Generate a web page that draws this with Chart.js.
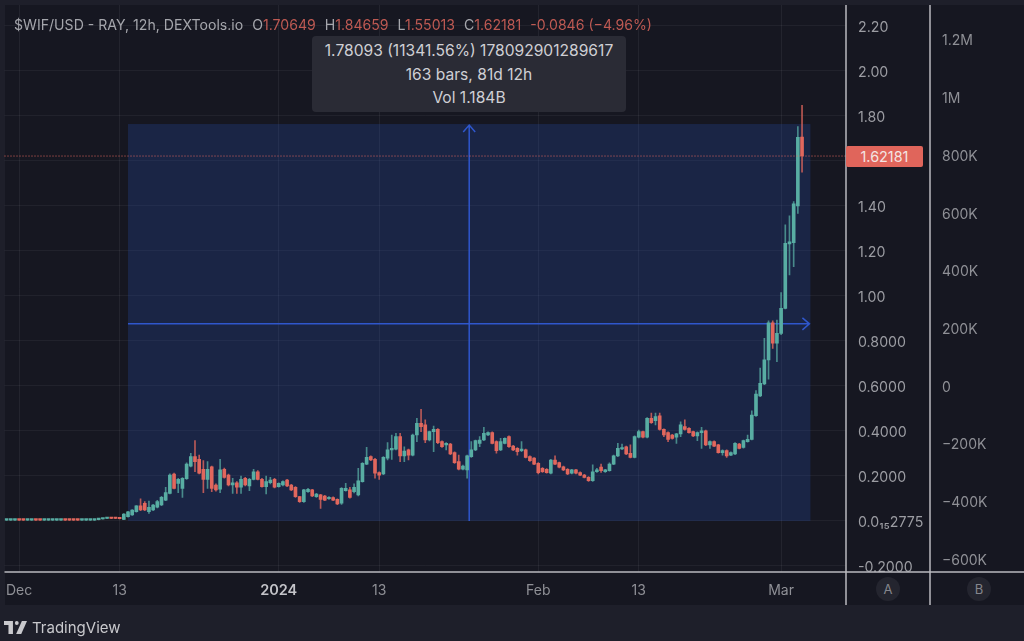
<!DOCTYPE html>
<html>
<head>
<meta charset="utf-8">
<title>$WIF/USD</title>
<script src="https://cdn.jsdelivr.net/npm/chart.js@4/dist/chart.umd.min.js"></script>
<style>
    html, body { margin: 0; padding: 0; }
    body { width: 1024px; height: 641px; background: #1e1f2a; overflow: hidden; position: relative; font-family: Inter, sans-serif; }
    #pane { position: absolute; left: 5px; top: 5px; width: 1019px; height: 600px; background: #161721; }
    #chart { position: absolute; left: 0; top: 0; }
    .legend { position: absolute; left: 14px; top: 16px; font-size: 14.1px; line-height: 18px; color: #a5a6ac; white-space: nowrap; }
    .legend b { font-weight: 400; color: #bf5a53; }
    .legend span { margin-left: 9px; }
    .measure { position: absolute; left: 312px; top: 36px; width: 314px; height: 76px; background: #2a2b35; border-radius: 4px; color: #cfcfd4; font-size: 15.6px; text-align: center; line-height: 23.5px; padding-top: 3px; box-sizing: border-box; }
    .price-tag { position: absolute; left: 846px; top: 146px; width: 77px; height: 21px; background: #e0655b; border-radius: 2px; color: #f3e4e2; font-size: 14.4px; line-height: 21px; text-align: center; }
    .badge { position: absolute; top: 577px; width: 24px; height: 24px; border-radius: 12px; background: #24252f; color: #85868d; font-size: 13px; line-height: 24px; text-align: center; }
    .brand { position: absolute; left: 4px; top: 617px; height: 20px; display: flex; align-items: center; color: #c9c9cd; font-size: 15px; }
    .brand svg { margin-right: 5px; }
</style>
</head>
<body>
<div id="pane"></div>
<canvas id="chart" width="1024" height="641"></canvas>

<div class="legend">$WIF/USD - RAY, 12h, DEXTools.io<span>O<b>1.70649</b></span><span>H<b>1.84659</b></span><span>L<b>1.55013</b></span><span>C<b>1.62181</b></span><span><b>-0.0846 (−4.96%)</b></span></div>
<div class="measure">1.78093 (11341.56%) 178092901289617<br>163 bars, 81d 12h<br>Vol 1.184B</div>
<div class="price-tag">1.62181</div>
<div class="badge" style="left: 876px">A</div>
<div class="badge" style="left: 967px">B</div>
<div class="brand">
    <svg width="23" height="13" viewBox="0 0 36 20"><path fill="#c9c9cd" d="M14 0H0v6h7v14h7V0Z"/><circle fill="#c9c9cd" cx="20" cy="3" r="3"/><path fill="#c9c9cd" d="M28 0h8l-9 20h-8l9-20Z"/></svg>
    TradingView
</div>

<script>
// 12h candles, oldest first
const opens = [
    .004, .004, .004, .005, .005, .004, .004, .005, .005, .004, .004, .004, .004, .004,
    .005, .005, .005, .005, .004, .004, .004, .004, .006, .009, .011, .012, .012, .012,
    .007, .019, .027, .041, .067, .079, .041, .049, .061, .071,
    .093, .123, .209, .167, .145, .188, .244, .286, .274, .230,
    .185, .241, .160, .141, .230, .204, .160, .170, .150, .190,
    .156, .185, .219, .185, .153, .170, .185, .153, .160, .182,
    .160, .150, .108, .086, .130, .138, .108, .116, .111, .099,
    .104, .096, .079, .135, .138, .130, .116, .175, .253, .286,
    .274, .215, .209, .279, .316, .319, .375, .289, .316, .293,
    .382, .434, .427, .360, .397, .407, .353, .338, .342, .304,
    .264, .230, .227, .286, .316, .345, .360, .382, .393, .353,
    .316, .345, .375, .333, .323, .313, .316, .286, .279, .256,
    .234, .230, .212, .271, .259, .241, .230, .212, .227, .215,
    .204, .194, .179, .219, .240, .219, .224, .253, .289, .320,
    .330, .301, .283, .372, .397, .372, .456, .446, .467, .407,
    .393, .382, .372, .387, .419, .412, .397, .378, .393, .401,
    .338, .353, .338, .304, .313, .293, .298, .342, .327, .353,
    .363, .468, .556, .609, .716, .881, .790, .834, .945, 1.231,
    1.237, 1.400, 1.70649
];
const highs = [
    .006, .006, .006, .006, .006, .006, .006, .006, .006, .006, .006, .006, .006, .006,
    .006, .006, .006, .006, .006, .006, .006, .007, .010, .012, .013, .013, .013, .013,
    .033, .043, .051, .069, .098, .086, .089, .074, .092, .110,
    .150, .210, .213, .190, .193, .258, .301, .357, .293, .268,
    .264, .244, .165, .274, .235, .208, .190, .175, .200, .194,
    .190, .230, .224, .190, .200, .194, .190, .170, .178, .185,
    .163, .153, .110, .141, .145, .141, .123, .119, .114, .108,
    .107, .099, .148, .167, .150, .165, .234, .260, .327, .290,
    .278, .219, .286, .348, .382, .390, .390, .330, .320, .386,
    .456, .496, .449, .400, .422, .411, .356, .348, .345, .307,
    .293, .248, .293, .353, .360, .375, .416, .396, .396, .356,
    .367, .370, .378, .336, .326, .353, .319, .289, .282, .259,
    .237, .233, .274, .289, .262, .244, .233, .230, .230, .218,
    .207, .197, .249, .234, .253, .230, .258, .293, .345, .342,
    .333, .338, .378, .404, .400, .459, .479, .479, .479, .410,
    .396, .385, .390, .441, .449, .415, .400, .396, .416, .404,
    .356, .356, .341, .316, .316, .307, .348, .345, .360, .382,
    .490, .579, .679, .812, .890, .890, .893, 1.015, 1.316, 1.356,
    1.419, 1.753, 1.84659
];
const lows = [
    .003, .003, .003, .003, .003, .003, .003, .003, .003, .003, .003, .003, .003, .003,
    .003, .003, .003, .003, .003, .003, .003, .003, .005, .008, .010, .010, .010, .009,
    .006, .017, .025, .039, .046, .046, .034, .046, .058, .068,
    .090, .120, .142, .126, .105, .185, .240, .219, .209, .126,
    .145, .130, .133, .126, .190, .156, .123, .123, .123, .156,
    .135, .182, .182, .150, .120, .165, .147, .150, .156, .153,
    .135, .105, .083, .083, .127, .108, .105, .056, .090, .096,
    .090, .073, .074, .132, .101, .125, .111, .172, .250, .268,
    .190, .185, .206, .271, .274, .316, .264, .264, .271, .289,
    .353, .397, .348, .356, .308, .344, .327, .316, .295, .256,
    .227, .227, .190, .283, .313, .330, .357, .379, .342, .301,
    .312, .342, .327, .313, .293, .308, .280, .265, .250, .209,
    .216, .212, .209, .250, .236, .224, .206, .209, .209, .201,
    .191, .176, .176, .216, .216, .216, .221, .250, .286, .317,
    .295, .280, .280, .369, .369, .369, .434, .427, .404, .375,
    .353, .364, .345, .375, .404, .390, .375, .357, .323, .335,
    .323, .330, .301, .293, .283, .290, .295, .320, .324, .350,
    .360, .465, .553, .606, .630, .767, .708, .828, .942, 1.093,
    1.130, 1.367, 1.55013
];
const closes = [
    .005, .005, .005, .004, .004, .005, .005, .004, .004, .005, .005, .005, .005, .005,
    .004, .004, .004, .004, .005, .005, .005, .006, .009, .011, .012, .011, .011, .010,
    .031, .041, .049, .067, .049, .049, .061, .071, .086, .105,
    .126, .204, .145, .185, .190, .253, .286, .264, .212, .185,
    .230, .145, .138, .227, .194, .160, .170, .150, .185, .160,
    .185, .219, .185, .153, .175, .182, .150, .167, .175, .156,
    .138, .108, .086, .138, .141, .111, .120, .096, .093, .105,
    .093, .076, .145, .145, .105, .150, .179, .256, .283, .271,
    .212, .204, .283, .316, .323, .375, .289, .311, .293, .382,
    .434, .419, .360, .397, .407, .348, .330, .345, .298, .259,
    .230, .244, .289, .316, .357, .360, .390, .393, .345, .313,
    .353, .367, .330, .316, .308, .319, .283, .268, .253, .215,
    .219, .215, .271, .253, .239, .227, .209, .227, .212, .204,
    .194, .179, .219, .227, .224, .227, .253, .290, .323, .326,
    .298, .283, .375, .397, .372, .456, .437, .464, .407, .382,
    .363, .367, .387, .427, .407, .393, .378, .393, .401, .338,
    .353, .333, .304, .313, .289, .304, .345, .323, .357, .363,
    .471, .564, .612, .716, .881, .790, .834, .945, 1.234, 1.241,
    1.409, 1.705, 1.62181
];

const dateTicks = ["2023-12-01T00", "2023-12-13T00", "2024-01-01T00", "2024-01-13T00", "2024-02-01T00", "2024-02-13T00", "2024-03-01T00"];
const dateTickLabels = ["Dec", "13", "2024", "13", "Feb", "13", "Mar"];

const priceTicks = [2.2, 2, 1.8, 1.6, 1.4, 1.2, 1, 0.8, 0.6, 0.4, 0.2, 0, -0.2];
const priceTickLabels = ["2.20", "2.00", "1.80", "", "1.40", "1.20", "1.00", "0.8000", "0.6000", "0.4000", "0.2000", "0.0₁₅2775", "-0.2000"];

const volumeTicks = [1200000, 1000000, 800000, 600000, 400000, 200000, 0, -200000, -400000, -600000];
const volumeTickLabels = ["1.2M", "1M", "800K", "600K", "400K", "200K", "0", "−200K", "−400K", "−600K"];

// span of the measuring tool, in candles and price
const measureStart = "2023-12-14T00";
const measureEnd = "2024-03-04T12";
const measureLow = 0.0;
const measureHigh = 1.764;
const measureMidPrice = 0.876;

const lastClose = closes[closes.length - 1];

const UP = "#58ada3";
const DOWN = "#e1675d";
const AXIS_LINE = "#b9b9be";

// one label per 12h slot, with empty room to the right of the last candle
const labels = [];
for (let i = 0; i < 201; i++) {
    const d = new Date(Date.UTC(2023, 10, 29, 12) + i * 12 * 3600 * 1000);
    labels.push(d.toISOString().slice(0, 13));
}

const candleColors = closes.map((c, i) => (c >= opens[i] ? UP : DOWN));
const wickColors = closes.map((c, i) => (c >= opens[i] ? "rgba(88,173,163,.75)" : "rgba(225,103,93,.8)"));

// measuring box with its two arrows, under the candles
const measureTool = {
    id: "measureTool",
    beforeDatasetsDraw(chart) {
        const { ctx, scales: { x, y } } = chart;
        const left = x.getPixelForValue(labels.indexOf(measureStart));
        const right = x.getPixelForValue(labels.indexOf(measureEnd));
        const mid = (left + right) / 2;
        const top = y.getPixelForValue(measureHigh);
        const bottom = y.getPixelForValue(measureLow);
        const midY = y.getPixelForValue(measureMidPrice);

        ctx.save();
        ctx.fillStyle = "rgba(41,80,180,.25)";
        ctx.fillRect(left, top, right - left, bottom - top);

        ctx.strokeStyle = "#2f57cc";
        ctx.lineWidth = 1.5;
        ctx.beginPath();
        ctx.moveTo(mid, bottom);
        ctx.lineTo(mid, top + 1);
        ctx.moveTo(mid - 6, top + 8);
        ctx.lineTo(mid, top + 1);
        ctx.lineTo(mid + 6, top + 8);
        ctx.moveTo(left, midY);
        ctx.lineTo(right - 1, midY);
        ctx.moveTo(right - 8, midY - 6);
        ctx.lineTo(right - 1, midY);
        ctx.lineTo(right - 8, midY + 6);
        ctx.stroke();
        ctx.restore();
    }
};

// dotted last-price line and the pane separators
const paneLines = {
    id: "paneLines",
    afterDraw(chart) {
        const { ctx, chartArea, scales: { x, y, yVolume } } = chart;
        const priceY = y.getPixelForValue(lastClose);

        ctx.save();
        ctx.strokeStyle = "#e1675d";
        ctx.lineWidth = 1;
        ctx.setLineDash([1, 2]);
        ctx.beginPath();
        ctx.moveTo(chartArea.left, priceY);
        ctx.lineTo(chartArea.right, priceY);
        ctx.stroke();

        ctx.setLineDash([]);
        ctx.strokeStyle = AXIS_LINE;
        ctx.lineWidth = 1.5;
        ctx.beginPath();
        ctx.moveTo(chartArea.left, x.top);
        ctx.lineTo(1024, x.top);
        [y.left, yVolume.left].forEach((px) => {
            ctx.moveTo(px, chartArea.top);
            ctx.lineTo(px, x.bottom);
        });
        ctx.stroke();
        ctx.restore();
    }
};

new Chart(document.getElementById("chart").getContext("2d"), {
    type: "bar",
    data: {
        labels: labels,
        datasets: [
            {
                label: "Body",
                data: opens.map((o, i) => [o, closes[i]]),
                backgroundColor: candleColors,
                barThickness: 3,
                minBarLength: 1.5,
                grouped: false,
                order: 1
            },
            {
                label: "Wick",
                data: lows.map((l, i) => [l, highs[i]]),
                backgroundColor: wickColors,
                barThickness: 1,
                grouped: false,
                order: 2
            }
        ]
    },
    options: {
        responsive: false,
        animation: false,
        layout: { padding: { left: 4.5, top: 5, right: 0, bottom: 36 } },
        plugins: { legend: { display: false }, tooltip: { enabled: false } },
        scales: {
            x: {
                grid: { offset: false, color: "rgba(255,255,255,.06)", drawTicks: false },
                border: { display: false },
                afterBuildTicks(axis) {
                    axis.ticks = dateTicks.map((d) => ({ value: labels.indexOf(d) }));
                },
                afterFit(axis) {
                    axis.height = 33;
                    axis.paddingLeft = 0;
                    axis.paddingRight = 0;
                },
                ticks: {
                    autoSkip: false,
                    maxRotation: 0,
                    padding: 10,
                    color: (c) => (dateTickLabels[c.index] === "2024" ? "#c4c4c9" : "#8f9096"),
                    font: (c) => (dateTickLabels[c.index] === "2024"
                        ? { family: "Inter", size: 14.5, weight: "600" }
                        : { family: "Inter", size: 14 }),
                    callback: (value, index) => dateTickLabels[index]
                }
            },
            y: {
                position: "right",
                min: -0.2267,
                max: 2.293,
                grid: { color: "rgba(255,255,255,.05)", drawTicks: false },
                border: { display: false },
                afterBuildTicks(axis) {
                    axis.ticks = priceTicks.map((v) => ({ value: v }));
                },
                afterFit(axis) {
                    axis.width = 84;
                    axis.paddingTop = 0;
                    axis.paddingBottom = 0;
                },
                ticks: {
                    padding: 12,
                    labelOffset: 1.5,
                    crossAlign: "near",
                    color: "#9c9da3",
                    font: { family: "Inter", size: 14.2 },
                    callback: (value, index) => priceTickLabels[index]
                }
            },
            yVolume: {
                position: "right",
                min: -644700,
                max: 1320600,
                grid: { display: false, drawTicks: false },
                border: { display: false },
                afterBuildTicks(axis) {
                    axis.ticks = volumeTicks.map((v) => ({ value: v }));
                },
                afterFit(axis) {
                    axis.width = 94;
                    axis.paddingTop = 0;
                    axis.paddingBottom = 0;
                },
                ticks: {
                    padding: 12,
                    labelOffset: 1.5,
                    crossAlign: "near",
                    color: "#8f9096",
                    font: { family: "Inter", size: 14 },
                    callback: (value, index) => volumeTickLabels[index]
                }
            }
        }
    },
    plugins: [measureTool, paneLines]
});
</script>
</body>
</html>
